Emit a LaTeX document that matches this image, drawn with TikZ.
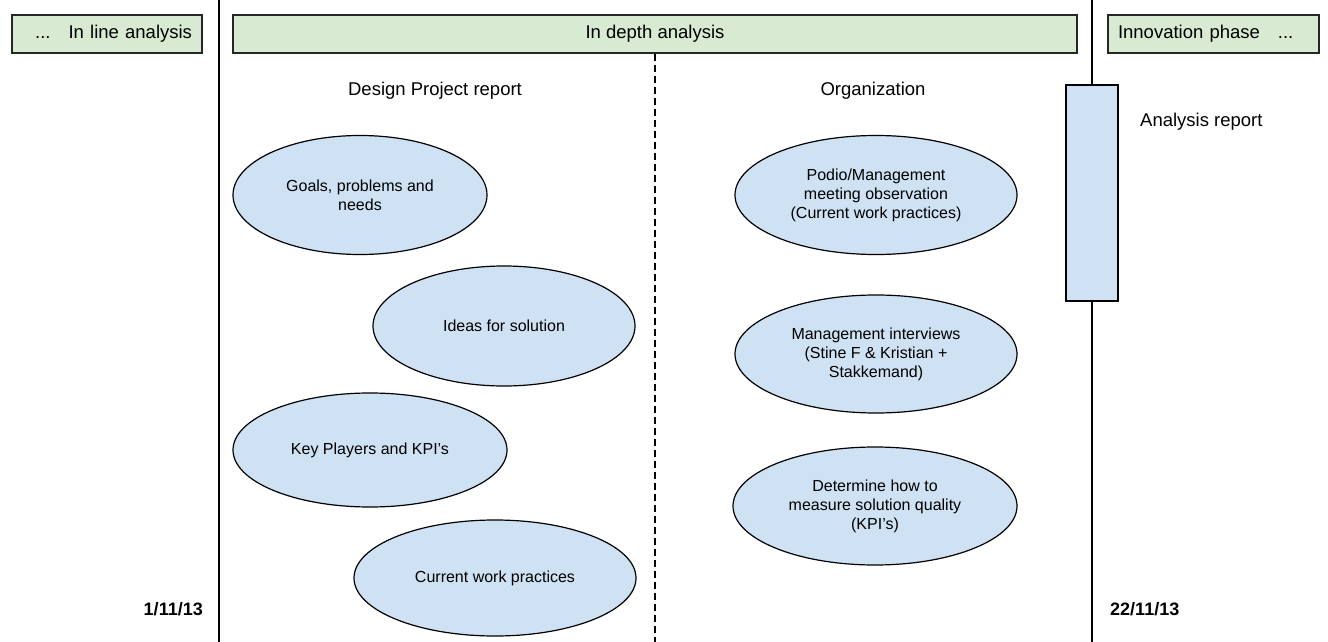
\documentclass[tikz,border=0pt]{standalone}
\usepackage{fontspec}
\setmainfont{Liberation Sans}
\usetikzlibrary{shapes.geometric}
\definecolor{phasegreen}{HTML}{D9EAD3}
\definecolor{taskblue}{HTML}{CFE2F3}

\begin{document}
\begin{tikzpicture}[x=1pt,y=-1pt,
    phase/.style={draw=black!85,line width=1.2pt,fill=phasegreen,minimum height=38pt,inner sep=0pt,font=\fontsize{18.5}{22}\selectfont},
    task/.style={ellipse,draw=black,line width=1.2pt,fill=taskblue,inner sep=0pt,align=center,font=\fontsize{16}{19}\selectfont},
    heading/.style={inner sep=0pt,font=\fontsize{18.5}{22}\selectfont},
    datemark/.style={inner sep=0pt,font=\fontsize{18}{22}\selectfont\bfseries}]
      \useasboundingbox (0,0) rectangle (1328,642);
      % phases along the top
      \node[phase,minimum width=190pt,text width=170pt,align=right] (inline) at (107,34) {...\hspace{18pt}In line analysis};
      \node[phase,minimum width=844pt] (indepth) at (655,34) {In depth analysis};
      \node[phase,minimum width=211pt,text width=191pt,align=left] (innov) at (1213.5,34) {Innovation phase\hspace{18pt}...};
      % milestones
      \coordinate (start top) at (219,0);
      \coordinate (start bot) at (219,642);
      \coordinate (end top) at (1092,0);
      \coordinate (end bot) at (1092,642);
      \coordinate (split bot) at (655,642);
      \draw[line width=1.2pt] (start top) -- (start bot);
      \draw[line width=1.2pt,dash pattern=on 7pt off 4pt] (indepth.south) -- (split bot);
      \node[draw,line width=1.2pt,fill=taskblue,minimum width=52pt,minimum height=216pt,inner sep=0pt] (report) at (1092,193) {};
      \draw[line width=1.2pt] (end top) -- (report.north);
      \draw[line width=1.2pt] (report.south) -- (end bot);
      \node[heading,anchor=west] (reportlabel) at (1140,122) {Analysis report};
      \node[datemark,anchor=east] (startdate) at (203,609) {1/11/13};
      \node[datemark,anchor=west] (enddate) at (1110,609) {22/11/13};
      % design project report
      \node[heading] (design) at (435,91) {Design Project report};
      \node[task,minimum width=254pt,minimum height=119pt] (goals) at (360,195) {Goals, problems and\\needs};
      \node[task,minimum width=262pt,minimum height=120pt] (ideas) at (504,326) {Ideas for solution};
      \node[task,minimum width=274pt,minimum height=114pt] (players) at (370,450) {Key Players and KPI’s};
      \node[task,minimum width=282pt,minimum height=116pt] (practices) at (495,578) {Current work practices};
      % organization
      \node[heading] (org) at (873,91) {Organization};
      \node[task,minimum width=282pt,minimum height=119pt] (podio) at (876,195) {Podio/Management\\meeting observation\\(Current work practices)};
      \node[task,minimum width=282pt,minimum height=118pt] (interviews) at (876,354) {Management interviews\\(Stine F \& Kristian +\\Stakkemand)};
      \node[task,minimum width=284pt,minimum height=118pt] (quality) at (875,506) {Determine how to\\measure solution quality\\(KPI’s)};
\end{tikzpicture}
\end{document}
